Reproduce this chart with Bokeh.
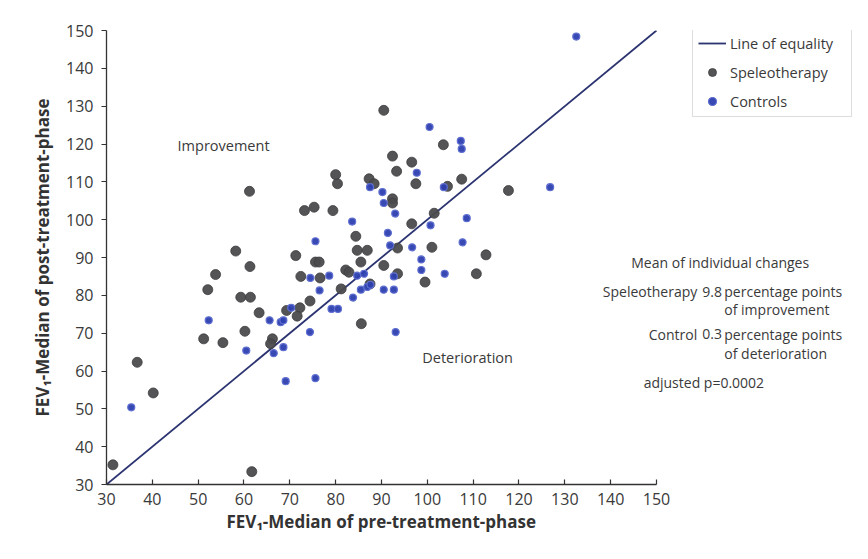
from bokeh.plotting import figure
from bokeh.models import Range1d, Legend, LegendItem, Label, FixedTicker, Title
from bokeh.embed import file_html
from bokeh.resources import INLINE

# ---- data ----
spe_x = [31.4, 61.7, 36.7, 40.2, 51.2, 52.1, 53.8, 55.4, 58.2, 59.3, 61.4, 60.2, 61.3, 61.2,
         63.3, 66.2, 65.8, 69.3, 71.3, 72.2, 71.6, 72.4, 73.2, 75.3, 75.6, 76.4, 76.6, 74.4,
         79.4, 80.0, 80.4, 81.2, 82.2, 82.9, 84.4, 84.7, 86.9, 85.5, 85.6, 87.3, 88.4, 87.5,
         90.5, 90.5, 92.4, 92.4, 92.4, 93.3, 93.5, 93.5, 96.6, 97.5, 96.6, 99.5, 101.0, 101.5,
         103.5, 104.4, 107.5, 110.7, 112.8, 117.7]
spe_y = [35.2, 33.4, 62.3, 54.2, 68.5, 81.5, 85.5, 67.5, 91.7, 79.5, 79.5, 70.5, 87.6, 107.5,
         75.4, 68.5, 67.2, 76.0, 90.5, 76.7, 74.5, 85.0, 102.4, 103.3, 88.8, 88.8, 84.6, 78.5,
         102.4, 111.9, 109.5, 81.7, 86.7, 86.1, 95.6, 91.9, 91.9, 88.8, 72.5, 110.8, 109.5, 83.0,
         128.9, 87.9, 116.8, 105.5, 104.4, 112.8, 92.5, 85.7, 115.2, 109.5, 98.9, 83.5, 92.7, 101.7,
         119.8, 108.8, 110.7, 85.7, 90.7, 107.7]

ctl_x = [35.4, 52.3, 60.5, 65.6, 68.0, 68.6, 66.5, 68.6, 69.1, 70.3, 74.5, 78.6, 76.5, 74.4,
         75.6, 79.1, 80.5, 83.8, 84.7, 86.2, 85.5, 86.9, 83.6, 75.6, 87.5, 90.2, 90.5, 93.0,
         91.9, 91.4, 90.5, 92.7, 92.7, 93.1, 98.7, 98.7, 103.8, 96.7, 97.7, 100.5, 107.3, 107.5,
         103.6, 100.7, 108.6, 107.7, 126.8, 132.5, 87.6]
ctl_y = [50.4, 73.4, 65.4, 73.4, 72.9, 73.4, 64.7, 66.3, 57.3, 76.7, 84.6, 85.2, 81.3, 70.3,
         58.1, 76.4, 76.4, 79.4, 85.2, 85.7, 81.5, 82.2, 99.5, 94.3, 108.6, 107.3, 104.4, 101.6,
         93.2, 96.5, 81.5, 81.5, 85.0, 70.3, 89.5, 86.7, 85.7, 92.7, 112.4, 124.5, 120.8, 118.7,
         108.6, 98.5, 100.4, 94.0, 108.6, 148.4, 82.8]

equality = [30, 150]
axis_ticks = [30, 40, 50, 60, 70, 80, 90, 100, 110, 120, 130, 140, 150]

FONT = "Open Sans"
TXT = "#3a3a3a"

p = figure(width=852, height=543, x_range=Range1d(30, 192.77), y_range=Range1d(30, 150),
           output_backend="svg", toolbar_location=None,
           min_border_left=106, min_border_right=0, min_border_top=30, min_border_bottom=59)
p.grid.visible = False
p.outline_line_color = None
p.background_fill_color = "white"
p.border_fill_color = "white"

for ax in (p.xaxis[0], p.yaxis[0]):
    ax.bounds = (30, 150)
    ax.ticker = FixedTicker(ticks=axis_ticks)
    ax.minor_tick_line_color = None
    ax.axis_line_color = "#333333"
    ax.axis_line_width = 1.3
    ax.major_tick_line_color = "#333333"
    ax.major_tick_line_width = 1.2
    ax.major_label_text_font = FONT
    ax.major_label_text_font_size = "16px"
    ax.major_label_text_color = TXT
    ax.axis_label_text_font = FONT
    ax.axis_label_text_font_size = "17px"
    ax.axis_label_text_font_style = "bold"
    ax.axis_label_text_color = "#333333"

p.xaxis.major_tick_in = 5
p.xaxis.major_tick_out = 0
p.yaxis.major_tick_in = 0
p.yaxis.major_tick_out = 5
p.yaxis.axis_label = "FEV\u2081-Median of post-treatment-phase"
p.xaxis.major_label_standoff = 8
p.yaxis.major_label_standoff = 8
p.yaxis.axis_label_standoff = 9

# x-axis title, centred under the axis bounds (30..150) rather than the whole frame
p.add_layout(Title(text="FEV\u2081-Median of pre-treatment-phase", align="left", offset=120,
                   standoff=0, text_font=FONT, text_font_size="17px",
                   text_font_style="bold", text_color="#333333"), "below")

line_r = p.line(equality, equality, line_color="#2b3370", line_width=1.8)
spe_r = p.scatter(spe_x, spe_y, size=10, fill_color="#4b4b4d", line_color="#3e3e40",
                  line_width=0.8, fill_alpha=0.95)
ctl_r = p.scatter(ctl_x, ctl_y, size=7, fill_color="#2d3fb0", line_color="#5f6fd0",
                  line_width=1.2, fill_alpha=0.95)

legend = Legend(items=[LegendItem(label="Line of equality", renderers=[line_r]),
                       LegendItem(label="Speleotherapy", renderers=[spe_r]),
                       LegendItem(label="Controls", renderers=[ctl_r])],
                location=(586, 367))
legend.label_text_font = FONT
legend.label_text_font_size = "14.5px"
legend.label_text_color = TXT
legend.border_line_color = "#bbbbbb"
legend.border_line_width = 1
legend.padding = 5
legend.spacing = 9
legend.glyph_height = 20
legend.glyph_width = 28
legend.label_standoff = 4
legend.label_height = 20
legend.label_width = 116
legend.background_fill_alpha = 1.0
p.add_layout(legend)


def lab(x, y, text, align="left", size="14.5px"):
    p.add_layout(Label(x=x, y=y, text=text, text_font=FONT, text_font_size=size,
                       text_color=TXT, text_align=align, text_baseline="middle"))


lab(45.5, 119.6, "Improvement")
lab(98.9, 63.6, "Deterioration")
lab(144.5, 88.68, "Mean of individual changes", size="14px")
lab(158.9, 81.0, "Speleotherapy", "right", "14px")
lab(160.0, 81.0, "9.8", size="14px")
lab(164.8, 81.0, "percentage points", size="14px")
lab(164.8, 76.26, "of improvement", size="14px")
lab(158.9, 69.65, "Control", "right", "14px")
lab(160.0, 69.65, "0.3", size="14px")
lab(164.8, 69.65, "percentage points", size="14px")
lab(164.8, 64.63, "of deterioration", size="14px")
lab(147.2, 56.96, "adjusted  p=0.0002", size="14px")

open("out.html", "w").write(file_html(p, INLINE))
